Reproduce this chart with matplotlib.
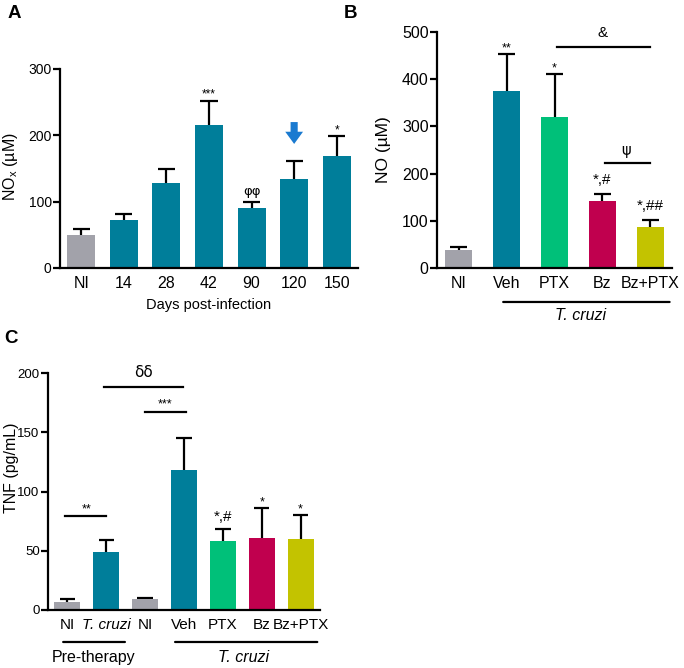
import matplotlib
matplotlib.use("Agg")
import matplotlib.pyplot as plt
from matplotlib import font_manager

names = {f.name for f in font_manager.fontManager.ttflist}
base_font = "Liberation Sans" if "Liberation Sans" in names else "DejaVu Sans"
narrow_font = "Liberation Sans Narrow" if "Liberation Sans Narrow" in names else base_font
plt.rcParams['font.family'] = [base_font, 'DejaVu Sans']

GRAY = "#A2A2AA"
TEAL = "#007E9A"
GREEN = "#00C079"
CRIMSON = "#C0004E"
OLIVE = "#C3C300"

# Panel A
a_cats = ["NI", "14", "28", "42", "90", "120", "150"]
a_vals = [50, 72, 128, 216, 90, 134, 169]
a_errs = [9, 10, 21, 36, 9, 27, 30]
a_marks = ["", "", "", "***", "φφ", "", "*"]

# Panel B
b_cats = ["NI", "Veh", "PTX", "Bz", "Bz+PTX"]
b_vals = [38, 374, 320, 142, 87]
b_errs = [6, 79, 90, 15, 14]
b_marks = ["", "**", "*", "*,#", "*,##"]

# Panel C
c_cats = ["NI", "T. cruzi", "NI", "Veh", "PTX", "Bz", "Bz+PTX"]
c_vals = [7, 49, 9, 118, 58, 61, 60]
c_errs = [2, 10, 1.5, 27, 10, 25, 20]
c_marks = ["", "", "", "", "*,#", "*", "*"]

W, H = 684, 668
fig = plt.figure(figsize=(W/100, H/100), dpi=100)
LW = 1.6

def ax_at(l, r, b, t):
    return fig.add_axes([l/W, 1-b/H, (r-l)/W, (b-t)/H])

def style(ax, yfs, xfs, family=None):
    for s in ["top", "right"]:
        ax.spines[s].set_visible(False)
    for s in ["left", "bottom"]:
        ax.spines[s].set_linewidth(LW)
    ax.tick_params(axis='y', width=LW, length=5, labelsize=yfs, pad=1)
    ax.tick_params(axis='x', length=0, labelsize=xfs, pad=6)
    if family:
        for lab in ax.get_xticklabels() + ax.get_yticklabels():
            lab.set_family(family)

def bars(ax, vals, errs, colors, width, capw):
    x = list(range(len(vals)))
    tops = [v + e for v, e in zip(vals, errs)]
    ax.bar(x, vals, width=width, color=colors, zorder=2)
    ax.vlines(x, vals, tops, color='black', lw=LW, zorder=1)
    ax.hlines(tops, [i - capw for i in x], [i + capw for i in x], color='black', lw=LW, zorder=1)
    return x, tops

def mark(ax, i, y, text, fs, dy, family=None):
    ax.annotate(text, xy=(i, y), xytext=(0, dy), textcoords='offset points',
                ha='center', va='bottom', fontsize=fs, family=family)

# ---------- A ----------
axA = ax_at(60, 358, 268, 69)
colorsA = [GRAY] + [TEAL]*6
x, tops = bars(axA, a_vals, a_errs, colorsA, 0.66, 0.2)
axA.set_xlim(-0.5, 6.5)
axA.set_ylim(0, 300)
axA.set_yticks([0, 100, 200, 300])
axA.set_xticks(x)
axA.set_xticklabels(a_cats)
axA.set_ylabel("NO$_\\mathregular{x}$ (µM)", fontsize=11.5)
axA.yaxis.set_label_coords(-0.135, 0.51)
axA.set_xlabel("Days post-infection", fontsize=10.5, labelpad=5)
for i, m in enumerate(a_marks):
    if m == "φφ":
        mark(axA, i, tops[i], m, 9.5, 3, ['DejaVu Sans'])
    elif m:
        mark(axA, i, tops[i], m, 8.5, 0)
axA.annotate("", xy=(5, 187), xytext=(5, 220),
             arrowprops=dict(arrowstyle='simple,head_length=0.55,head_width=0.8,tail_width=0.32',
                             mutation_scale=16, fc='#1A7AD0', ec='none', lw=0,
                             shrinkA=0, shrinkB=0))
style(axA, 10, 11.5)
fig.text(8/W, 1-14/H, "A", fontsize=13.5, fontweight='bold', va='center')

# ---------- B ----------
axB = ax_at(437, 672, 268, 32)
colorsB = [GRAY, TEAL, GREEN, CRIMSON, OLIVE]
x, tops = bars(axB, b_vals, b_errs, colorsB, 0.55, 0.17)
axB.set_xlim(-0.45, 4.45)
axB.set_ylim(0, 500)
axB.set_yticks([0, 100, 200, 300, 400, 500])
axB.set_xticks(x)
axB.set_xticklabels(b_cats)
axB.set_ylabel("NO (µM)", fontsize=12.5)
axB.yaxis.set_label_coords(-0.196, 0.5)
for i, m in enumerate(b_marks):
    if m in ('*', '**'):
        mark(axB, i, tops[i], m, 9, 0)
    elif m:
        mark(axB, i, tops[i], m, 11, 5)
axB.plot([2.05, 4.0], [468, 468], color='black', lw=LW, clip_on=False)
axB.annotate("&", xy=(3.0, 468), xytext=(0, 5), textcoords='offset points',
             ha='center', va='bottom', fontsize=11)
axB.plot([3.05, 4.0], [222, 222], color='black', lw=LW, clip_on=False)
axB.annotate("ψ", xy=(3.5, 222), xytext=(0, 4), textcoords='offset points',
             ha='center', va='bottom', fontsize=10.5, family=['DejaVu Sans'])
axB.annotate("", xy=(0.93, -0.144), xytext=(4.4, -0.144), xycoords=('data', 'axes fraction'),
             textcoords=('data', 'axes fraction'),
             arrowprops=dict(arrowstyle='-', lw=LW, color='black', shrinkA=0, shrinkB=0))
axB.text(2.55, -0.2, "T. cruzi", style='italic', ha='center', va='center', fontsize=11.5,
         transform=axB.get_xaxis_transform())
style(axB, 11.5, 11.5)
fig.text(344/W, 1-14/H, "B", fontsize=13.5, fontweight='bold', va='center')

# ---------- C ----------
axC = ax_at(48, 320, 610, 373)
colorsC = [GRAY, TEAL, GRAY, TEAL, GREEN, CRIMSON, OLIVE]
x, tops = bars(axC, c_vals, c_errs, colorsC, 0.67, 0.2)
axC.set_xlim(-0.5, 6.5)
axC.set_ylim(0, 200)
axC.set_yticks([0, 50, 100, 150, 200])
axC.set_xticks(x)
axC.set_xticklabels(c_cats)
axC.set_ylabel("TNF (pg/mL)", fontsize=11.5)
axC.yaxis.set_label_coords(-0.108, 0.6)
for i, m in enumerate(c_marks):
    if m == '*':
        mark(axC, i, tops[i], m, 9, 0, narrow_font)
    elif m:
        mark(axC, i, tops[i], m, 11, 4, narrow_font)
axC.plot([-0.05, 1.0], [79, 79], color='black', lw=LW)
axC.annotate("**", xy=(0.5, 79), xytext=(0, 1), textcoords='offset points',
             ha='center', va='bottom', fontsize=9)
axC.plot([2.0, 3.05], [167, 167], color='black', lw=LW)
axC.annotate("***", xy=(2.5, 167), xytext=(0, 1), textcoords='offset points',
             ha='center', va='bottom', fontsize=9)
axC.plot([0.95, 2.98], [188, 188], color='black', lw=LW)
axC.annotate("δδ", xy=(1.95, 188), xytext=(0, 5), textcoords='offset points',
             ha='center', va='bottom', fontsize=11, family=['DejaVu Sans'])
axC.annotate("", xy=(-0.11, -0.135), xytext=(1.48, -0.135), xycoords=('data', 'axes fraction'),
             textcoords=('data', 'axes fraction'),
             arrowprops=dict(arrowstyle='-', lw=LW, color='black', shrinkA=0, shrinkB=0))
axC.text(0.68, -0.2, "Pre-therapy", ha='center', va='center', fontsize=11.5,
         transform=axC.get_xaxis_transform(), family=narrow_font)
axC.annotate("", xy=(2.77, -0.135), xytext=(6.43, -0.135), xycoords=('data', 'axes fraction'),
             textcoords=('data', 'axes fraction'),
             arrowprops=dict(arrowstyle='-', lw=LW, color='black', shrinkA=0, shrinkB=0))
axC.text(4.53, -0.2, "T. cruzi", style='italic', ha='center', va='center', fontsize=11.5,
         transform=axC.get_xaxis_transform(), family=narrow_font)
style(axC, 9.5, 11, family=narrow_font)
axC.get_xticklabels()[1].set_style('italic')
axC.yaxis.label.set_family(narrow_font)
fig.text(4/W, 1-338/H, "C", fontsize=13.5, fontweight='bold', va='center')

fig.savefig("out.png", dpi=100)
